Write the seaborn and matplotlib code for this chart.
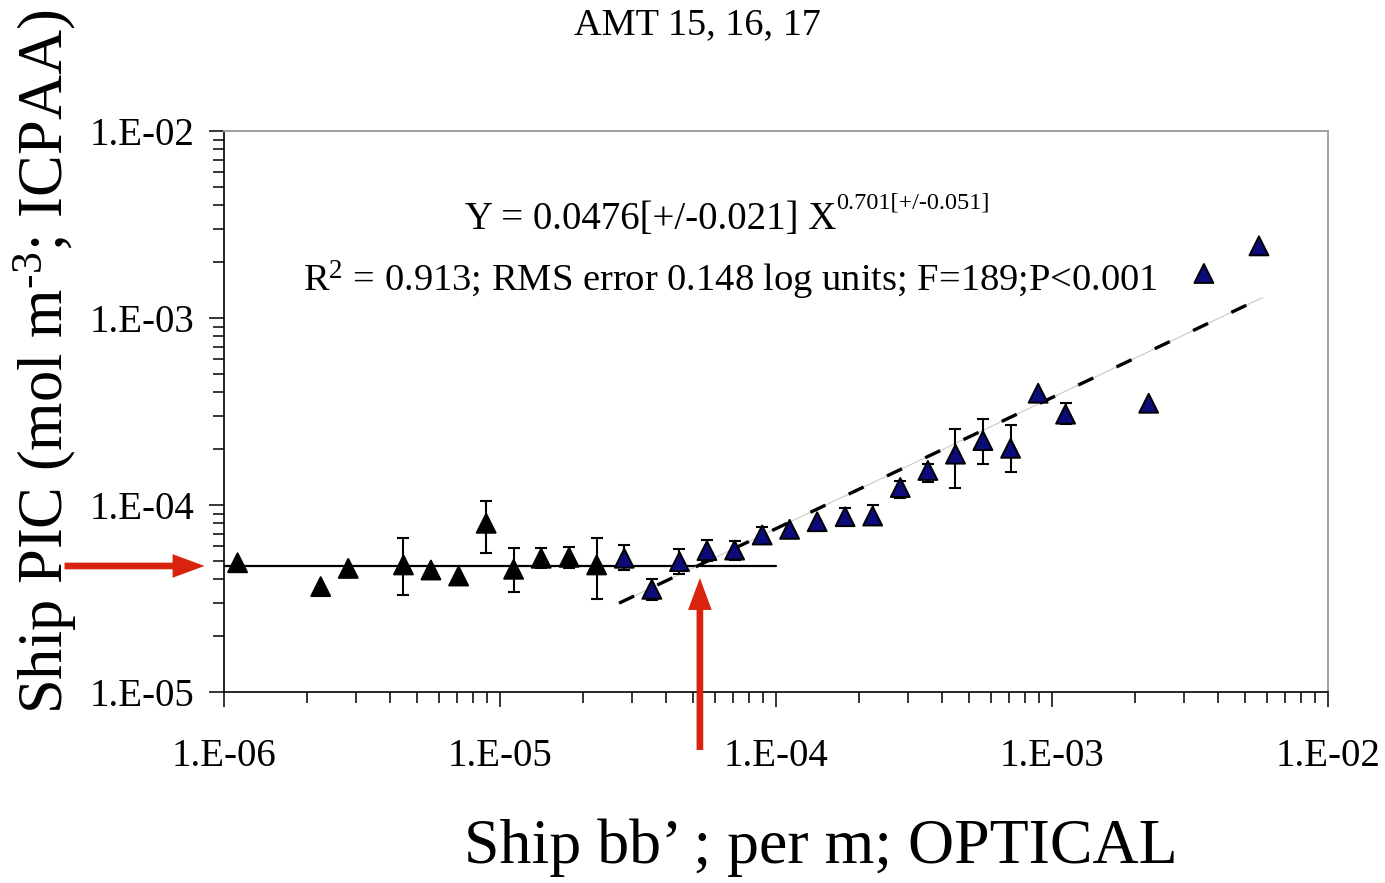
import numpy as np
import pandas as pd
import matplotlib
matplotlib.use("Agg")
import matplotlib.pyplot as plt
from matplotlib.ticker import LogLocator, FuncFormatter, NullFormatter
import seaborn as sns

# Binned ship observations: optical backscatter (x) vs ICPAA PIC (y)
bb_prime = [1.12e-6, 2.24e-6, 2.82e-6, 4.47e-6, 5.62e-6, 7.08e-6, 8.91e-6,
            1.12e-5, 1.41e-5, 1.78e-5, 2.24e-5, 2.82e-5, 3.55e-5, 4.47e-5,
            5.62e-5, 7.08e-5, 8.91e-5, 1.12e-4, 1.41e-4, 1.78e-4, 2.24e-4,
            2.82e-4, 3.55e-4, 4.47e-4, 5.62e-4, 7.08e-4, 8.91e-4, 1.12e-3,
            2.24e-3, 3.55e-3, 5.62e-3]
pic = [4.91e-5, 3.66e-5, 4.58e-5, 4.78e-5, 4.49e-5, 4.17e-5, 7.98e-5,
       4.53e-5, 5.19e-5, 5.25e-5, 4.78e-5, 5.19e-5, 3.54e-5, 4.98e-5,
       5.70e-5, 5.74e-5, 6.91e-5, 7.41e-5, 8.14e-5, 8.66e-5, 8.73e-5,
       1.24e-4, 1.53e-4, 1.87e-4, 2.21e-4, 2.01e-4, 3.96e-4, 3.06e-4,
       3.50e-4, 1.73e-3, 2.43e-3]
# Error bar bounds (nan = no bar)
pic_low = [np.nan, np.nan, np.nan, 3.30e-5, np.nan, np.nan, 5.56e-5,
           3.44e-5, 4.60e-5, 4.60e-5, 3.13e-5, 4.50e-5, 3.10e-5, 4.30e-5,
           5.00e-5, 5.10e-5, 6.30e-5, np.nan, np.nan, 7.80e-5, 7.90e-5,
           1.09e-4, 1.33e-4, 1.23e-4, 1.66e-4, 1.51e-4, np.nan, 2.70e-4,
           np.nan, np.nan, np.nan]
pic_high = [np.nan, np.nan, np.nan, 6.64e-5, np.nan, np.nan, 1.05e-4,
            5.87e-5, 5.92e-5, 5.98e-5, 6.64e-5, 6.10e-5, 4.01e-5, 5.80e-5,
            6.50e-5, 6.40e-5, 7.60e-5, np.nan, np.nan, 9.60e-5, 1.00e-4,
            1.35e-4, 1.65e-4, 2.54e-4, 2.87e-4, 2.68e-4, np.nan, 3.52e-4,
            np.nan, np.nan, np.nan]
n_plateau = 11          # first bins lie on the detection-limit plateau

plateau_level = 4.72e-5
plateau_range = [1.0e-6, 1.0e-4]
fit_coef = 0.0476
fit_exp = 0.701
fit_range = [2.7e-5, 5.8e-3]

x_ticks = [1e-6, 1e-5, 1e-4, 1e-3, 1e-2]
y_ticks = [1e-5, 1e-4, 1e-3, 1e-2]

title = "AMT 15, 16, 17"
eq_main = "Y = 0.0476[+/-0.021] X"
eq_exp = "0.701[+/-0.051]"
stats = r"R$^{2}$ = 0.913; RMS error 0.148 log units; F=189;P<0.001"
xlabel = "Ship bb\u2019 ; per m; OPTICAL"
ylabel = r"Ship PIC (mol m$^{\text{-3}}$; ICPAA)"

sns.set_style("ticks")
plt.rcParams["font.family"] = ["Liberation Serif", "DejaVu Serif"]
plt.rcParams["mathtext.fontset"] = "custom"
plt.rcParams["mathtext.rm"] = "Liberation Serif"
plt.rcParams["mathtext.it"] = "Liberation Serif:italic"
plt.rcParams["mathtext.bf"] = "Liberation Serif:bold"
plt.rcParams["lines.scale_dashes"] = False
plt.rcParams["text.color"] = "black"

W, H = 1385, 883
fig = plt.figure(figsize=(W / 100, H / 100), dpi=100)
ax = fig.add_axes([224 / W, 1 - 692 / H, (1328 - 224) / W, (692 - 131) / H])

df = pd.DataFrame({"bb": bb_prime, "pic": pic,
                   "group": ["plateau"] * n_plateau + ["fit"] * (len(pic) - n_plateau)})

# reference lines
ax.plot(plateau_range, [plateau_level] * 2, color="black", lw=1.6, zorder=1)
xf = np.logspace(np.log10(fit_range[0]), np.log10(fit_range[1]), 200)
yf = fit_coef * xf ** fit_exp
ax.plot(xf, yf, color="#c8c8c8", lw=0.8, zorder=1)
ax.plot(xf, yf, color="black", lw=2.4, dashes=(12, 18.5), zorder=1)

# error bars
lo = np.array(pic_low); hi = np.array(pic_high)
yv = np.array(pic); xv = np.array(bb_prime)
m = np.isfinite(lo)
ax.errorbar(xv[m], yv[m], yerr=[yv[m] - lo[m], hi[m] - yv[m]], fmt="none",
            ecolor="black", elinewidth=1.5, capsize=4, capthick=1.5, zorder=2)

sns.scatterplot(data=df, x="bb", y="pic", hue="group", marker="^", s=185,
                palette={"plateau": "black", "fit": "#0b0b7a"},
                edgecolor="black", linewidth=1.4, legend=False, ax=ax, zorder=3)

ax.set_xscale("log")
ax.set_yscale("log")
ax.set_xlim(1e-6, 1e-2)
ax.set_ylim(1e-5, 1e-2)
ax.set_xticks(x_ticks)
ax.set_yticks(y_ticks)
fmt = FuncFormatter(lambda v, p: "1.E{:+03d}".format(int(round(np.log10(v)))))
ax.xaxis.set_major_formatter(fmt)
ax.yaxis.set_major_formatter(fmt)
ax.xaxis.set_minor_locator(LogLocator(base=10, subs=np.arange(2, 10)))
ax.yaxis.set_minor_locator(LogLocator(base=10, subs=np.arange(2, 10)))
ax.xaxis.set_minor_formatter(NullFormatter())
ax.yaxis.set_minor_formatter(NullFormatter())
ax.set_xlabel("")
ax.set_ylabel("")
ax.tick_params(axis="both", which="major", direction="out", length=11,
               width=1.1, color="black", labelsize=28, labelcolor="black")
ax.tick_params(axis="both", which="minor", direction="out", length=8,
               width=1.1, color="black")
ax.tick_params(axis="x", which="major", pad=22)
ax.tick_params(axis="y", which="major", pad=10)
for s in ["left", "bottom"]:
    ax.spines[s].set_color("black")
    ax.spines[s].set_linewidth(1.2)
for s in ["top", "right"]:
    ax.spines[s].set_visible(True)
    ax.spines[s].set_color("#a0a0a0")
    ax.spines[s].set_linewidth(1.4)

# texts
fig.text(697 / W, 1 - 25 / H, title, ha="center", va="center", fontsize=27.5)
t_eq = fig.text(465 / W, 1 - 220 / H, eq_main, ha="left", va="center", fontsize=28)
ax.annotate(eq_exp, xy=(1.0, 0.95), xycoords=t_eq, ha="left", va="center",
            fontsize=17.5, annotation_clip=False)
fig.text(730 / W, 1 - 280 / H, stats, ha="center", va="center", fontsize=27.7)
fig.text(821 / W, 1 - 848 / H, xlabel, ha="center", va="center", fontsize=46)
fig.text(45 / W, 1 - 362 / H, ylabel, ha="center", va="center", fontsize=45,
         rotation=90)

# arrows marking the plateau level and the breakpoint
red = "#d9230f"
astyle = "simple,head_length=1.15,head_width=0.85,tail_width=0.24"
ax.annotate("", xy=(8.5e-7, plateau_level), xycoords="data",
            xytext=(-140, 0), textcoords="offset pixels",
            arrowprops=dict(arrowstyle=astyle, mutation_scale=20, color=red,
                            lw=0, shrinkA=0, shrinkB=0),
            annotation_clip=False)
ax.annotate("", xy=(5.3e-5, 4.07e-5), xycoords="data",
            xytext=(0, -172), textcoords="offset pixels",
            arrowprops=dict(arrowstyle=astyle, mutation_scale=20, color=red,
                            lw=0, shrinkA=0, shrinkB=0),
            annotation_clip=False)

fig.savefig("out.png", dpi=100)
